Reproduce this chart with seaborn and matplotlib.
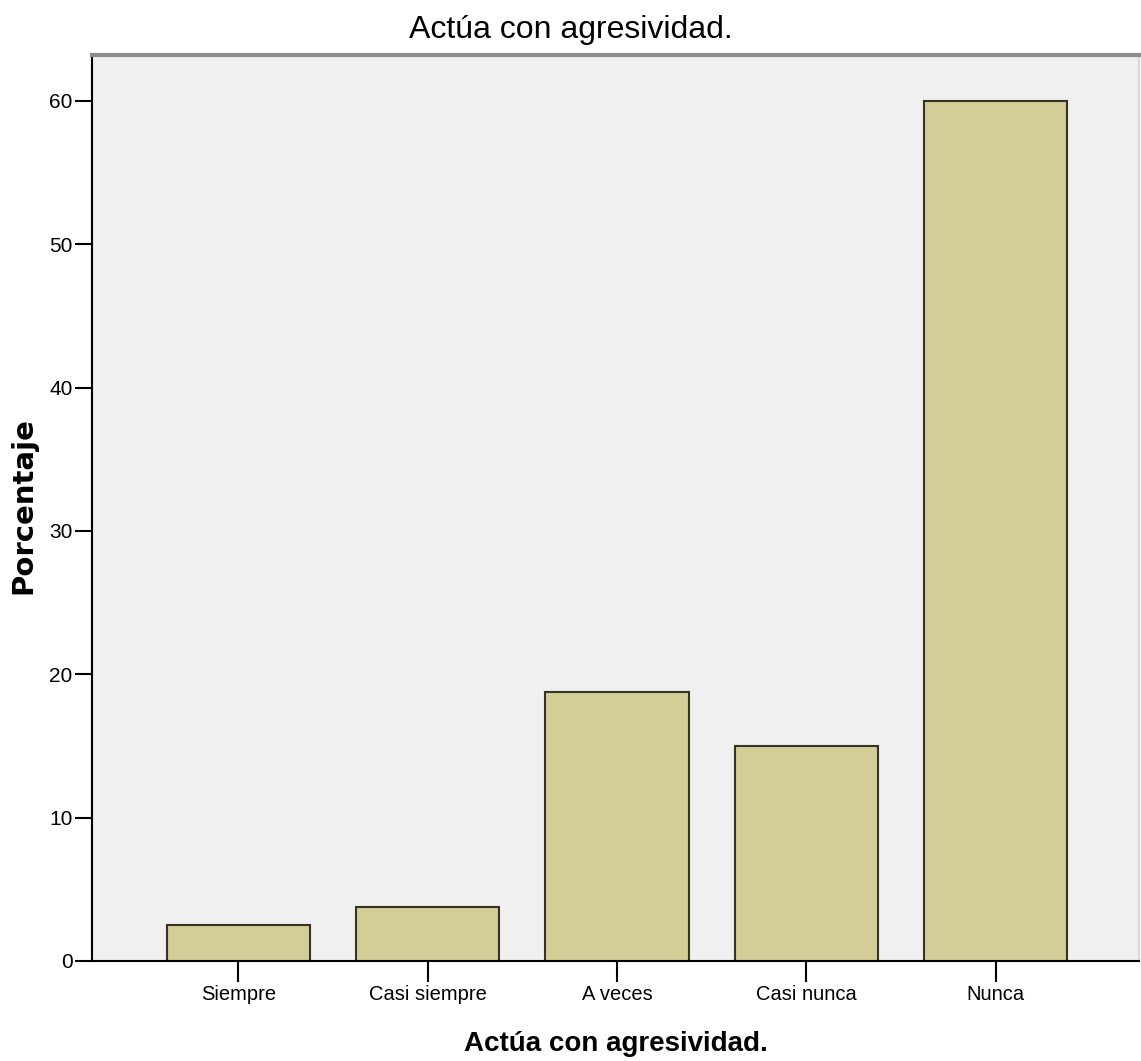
import matplotlib
matplotlib.use('Agg')
import matplotlib.pyplot as plt
import seaborn as sns
import pandas as pd

# datos
categorias = ['Siempre', 'Casi siempre', 'A veces', 'Casi nunca', 'Nunca']
porcentajes = [2.5, 3.75, 18.75, 15.0, 60.0]
yticks = [0, 10, 20, 30, 40, 50, 60]

titulo = 'Actúa con agresividad.'
etiqueta_x = 'Actúa con agresividad.'
etiqueta_y = 'Porcentaje'

df = pd.DataFrame({'categoria': categorias, 'porcentaje': porcentajes})

plt.rcParams['font.family'] = ['Liberation Sans', 'DejaVu Sans']

fig = plt.figure(figsize=(11.41, 10.61), dpi=100)
ax = fig.add_axes([92 / 1141, 1 - 961 / 1061, (1139 - 92) / 1141, (961 - 55) / 1061])
ax.set_facecolor('#f0f0f0')

sns.barplot(data=df, x='categoria', y='porcentaje', ax=ax, color='#d3ce96',
            saturation=1, width=0.756, edgecolor='#333326', linewidth=1.5)

ax.set_xlim(-0.774, 4.758)
ax.set_ylim(0, 63.2)
ax.set_yticks(yticks)
ax.set_yticklabels([str(t) for t in yticks], fontsize=15)
ax.set_xticks(range(len(categorias)))
ax.set_xticklabels(categorias, fontsize=14.5)
ax.tick_params(axis='y', length=12, width=1.5, color='black', pad=2)
ax.tick_params(axis='x', length=15, width=1.5, color='black', pad=2)

for s in ['left', 'bottom']:
    ax.spines[s].set_color('black')
    ax.spines[s].set_linewidth(1.5)
ax.spines['top'].set_color('#8c8c8c')
ax.spines['top'].set_linewidth(3)
ax.spines['right'].set_color('#d8d8d8')
ax.spines['right'].set_linewidth(1.5)

ax.set_xlabel(etiqueta_x, fontweight='bold', fontsize=20, va='top')
ax.xaxis.set_label_coords(0.5, -0.077)
ax.set_ylabel(etiqueta_y, family=['DejaVu Sans'], fontweight='bold', fontsize=21, va='center')
ax.yaxis.set_label_coords(-0.066, 0.503)
fig.suptitle(titulo, x=0.5, y=0.986, fontsize=23)

fig.savefig('out.png', dpi=100)
